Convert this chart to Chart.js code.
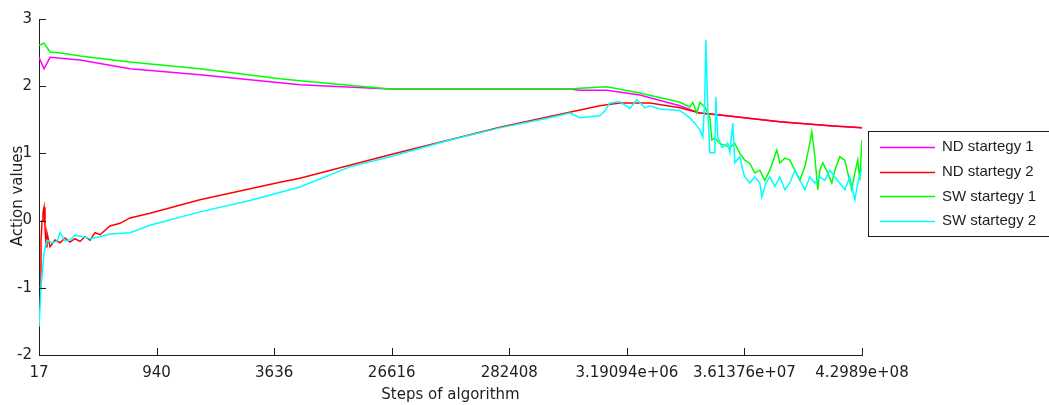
<!DOCTYPE html>
<html>
<head>
<meta charset="utf-8">
<title>Action values</title>
<script src="https://cdn.jsdelivr.net/npm/chart.js@4.4.1/dist/chart.umd.min.js"></script>
<style>
  html, body { margin: 0; padding: 0; background: #ffffff; }
  #wrap { width: 1049px; height: 405px; }
</style>
</head>
<body>
<div id="wrap"><canvas id="grafico" width="1049" height="405"></canvas></div>
<script>
// etiquetas del eje x (pasos del algoritmo)
const stepLabels = ["17", "940", "3636", "26616", "282408", "3.19094e+06", "3.61376e+07", "4.2989e+08"];
const yTicks = [-2, -1, 0, 1, 2, 3];

// series: [posicion en el eje x, valor]
const ndStartegy1 = [
    [0, 2.43], [0.043, 2.26], [0.094, 2.43], [0.349, 2.39], [0.774, 2.26], [1.369, 2.17],
    [2.049, 2.05], [2.219, 2.02], [2.985, 1.96], [4.515, 1.96], [4.6, 1.94], [4.83, 1.94],
    [5.111, 1.87], [5.451, 1.71], [5.621, 1.60], [5.791, 1.57], [6.301, 1.47], [6.726, 1.41], [7, 1.38]
];

const ndStartegy2 = [
    [0, -0.99], [0.009, -0.99], [0.017, -0.30], [0.026, 0.0], [0.034, 0.12], [0.043, 0.20],
    [0.051, -0.10], [0.06, -0.39], [0.068, -0.18], [0.094, -0.39], [0.136, -0.29], [0.179, -0.33],
    [0.221, -0.26], [0.264, -0.32], [0.306, -0.27], [0.349, -0.31], [0.391, -0.24], [0.434, -0.29],
    [0.476, -0.18], [0.519, -0.21], [0.604, -0.08], [0.689, -0.04], [0.774, 0.04], [0.944, 0.11],
    [1.369, 0.31], [2.049, 0.57], [2.219, 0.63], [2.985, 0.98], [3.92, 1.39], [4.77, 1.71],
    [4.94, 1.75], [5.196, 1.75], [5.451, 1.68], [5.621, 1.60], [5.791, 1.57], [6.301, 1.47],
    [6.726, 1.41], [7, 1.38]
];

const swStartegy1 = [
    [0, 2.61], [0.043, 2.64], [0.094, 2.51], [0.2, 2.49], [0.35, 2.45], [0.774, 2.36], [1.369, 2.26],
    [2.049, 2.11], [2.219, 2.08], [2.985, 1.96], [4.515, 1.96], [4.6, 1.97], [4.83, 1.99],
    [5.111, 1.90], [5.451, 1.76], [5.535, 1.69], [5.561, 1.76], [5.595, 1.60], [5.621, 1.76],
    [5.663, 1.69], [5.706, 1.53], [5.723, 1.20], [5.748, 1.23], [5.791, 1.15], [5.833, 1.12],
    [5.876, 1.09], [5.918, 1.15], [5.961, 1.00], [6.003, 0.90], [6.046, 0.85], [6.088, 0.71],
    [6.131, 0.75], [6.173, 0.60], [6.216, 0.75], [6.276, 1.05], [6.301, 0.86], [6.344, 0.93],
    [6.386, 0.90], [6.429, 0.75], [6.471, 0.60], [6.514, 0.80], [6.556, 1.15], [6.573, 1.32],
    [6.599, 0.95], [6.624, 0.46], [6.641, 0.75], [6.667, 0.86], [6.709, 0.71], [6.743, 0.56],
    [6.769, 0.75], [6.811, 0.95], [6.854, 0.90], [6.879, 0.71], [6.913, 0.46], [6.939, 0.71],
    [6.964, 0.90], [6.981, 0.60], [7, 1.20]
];

const swStartegy2 = [
    [0, -1.58], [0.017, -0.99], [0.043, -0.48], [0.068, -0.29], [0.111, -0.33], [0.153, -0.31],
    [0.179, -0.18], [0.221, -0.30], [0.264, -0.29], [0.306, -0.22], [0.349, -0.23], [0.434, -0.27],
    [0.519, -0.24], [0.604, -0.20], [0.774, -0.18], [0.944, -0.07], [1.369, 0.13], [1.794, 0.30],
    [2.219, 0.50], [2.645, 0.80], [2.985, 0.95], [3.495, 1.20], [3.92, 1.38], [4.345, 1.53],
    [4.515, 1.60], [4.6, 1.53], [4.77, 1.56], [4.813, 1.63], [4.855, 1.75], [4.94, 1.77],
    [5.026, 1.67], [5.085, 1.80], [5.153, 1.68], [5.196, 1.71], [5.281, 1.66], [5.451, 1.64],
    [5.535, 1.53], [5.578, 1.45], [5.621, 1.35], [5.646, 1.24], [5.663, 1.84], [5.672, 2.69],
    [5.689, 1.60], [5.706, 1.01], [5.748, 1.01], [5.757, 1.84], [5.774, 1.24], [5.808, 1.09],
    [5.859, 1.15], [5.876, 1.01], [5.901, 1.45], [5.918, 0.86], [5.961, 0.95], [5.986, 0.75],
    [6.003, 0.65], [6.046, 0.56], [6.088, 0.65], [6.131, 0.56], [6.148, 0.35], [6.182, 0.56],
    [6.216, 0.65], [6.259, 0.51], [6.301, 0.65], [6.344, 0.46], [6.386, 0.56], [6.429, 0.75],
    [6.471, 0.60], [6.514, 0.46], [6.556, 0.65], [6.599, 0.56], [6.641, 0.65], [6.684, 0.60],
    [6.726, 0.75], [6.769, 0.65], [6.811, 0.56], [6.854, 0.46], [6.896, 0.65], [6.939, 0.31],
    [6.964, 0.56], [7, 0.78]
];

const seriesNames = ["ND startegy 1", "ND startegy 2", "SW startegy 1", "SW startegy 2"];
const seriesColors = ["#ff00ff", "#ff0000", "#00ff00", "#00ffff"];

const textColor = "#1e1e1e";
const axisFont = { family: "'DejaVu Sans', sans-serif", size: 15 };

function toPoints(arr) {
    return arr.map(p => ({ x: p[0], y: p[1] }));
}

// marcas hacia dentro, titulo del eje y y leyenda
const marcasYLeyenda = {
    id: "marcasYLeyenda",
    afterDraw(chart) {
        const ctx = chart.ctx;
        const area = chart.chartArea;
        const sx = chart.scales.x;
        const sy = chart.scales.y;
        ctx.save();
        ctx.strokeStyle = textColor;
        ctx.lineWidth = 1;
        ctx.beginPath();
        sx.ticks.forEach(t => {
            const px = Math.round(sx.getPixelForValue(t.value)) + 0.5;
            ctx.moveTo(px, area.bottom);
            ctx.lineTo(px, area.bottom - 7);
        });
        sy.ticks.forEach(t => {
            const py = Math.round(sy.getPixelForValue(t.value)) + 0.5;
            ctx.moveTo(area.left, py);
            ctx.lineTo(area.left + 7, py);
        });
        ctx.stroke();

        // titulo eje y
        ctx.save();
        ctx.translate(18, 196);
        ctx.rotate(-Math.PI / 2);
        ctx.font = "15px 'DejaVu Sans', sans-serif";
        ctx.fillStyle = textColor;
        ctx.textAlign = "center";
        ctx.textBaseline = "middle";
        ctx.fillText("Action values", 0, 0);
        ctx.restore();

        // leyenda
        const lx = 868.5, ly = 131.5;
        ctx.fillStyle = "#ffffff";
        ctx.fillRect(lx, ly, 190, 105);
        ctx.strokeStyle = textColor;
        ctx.lineWidth = 1;
        ctx.strokeRect(lx, ly, 190, 105);
        ctx.font = "15px 'Liberation Sans', Arial, sans-serif";
        ctx.textAlign = "left";
        ctx.textBaseline = "middle";
        chart.data.datasets.forEach((ds, i) => {
            const yy = 147 + i * 24.7;
            ctx.strokeStyle = ds.borderColor;
            ctx.lineWidth = 1.5;
            ctx.beginPath();
            ctx.moveTo(880, Math.round(yy) + 0.5);
            ctx.lineTo(935, Math.round(yy) + 0.5);
            ctx.stroke();
            ctx.fillStyle = textColor;
            ctx.fillText(ds.label, 942, yy);
        });
        ctx.restore();
    }
};

const datos = {
    datasets: [ndStartegy1, ndStartegy2, swStartegy1, swStartegy2].map((serie, i) => ({
        label: seriesNames[i],
        data: toPoints(serie),
        borderColor: seriesColors[i],
        backgroundColor: seriesColors[i],
        borderWidth: 1.5,
        pointRadius: 0,
        tension: 0,
        order: 3 - i
    }))
};

const config = {
    type: "line",
    data: datos,
    options: {
        responsive: false,
        maintainAspectRatio: false,
        animation: false,
        layout: { padding: { top: 19, right: 187, bottom: 0, left: 0 } },
        scales: {
            x: {
                type: "linear",
                min: 0,
                max: stepLabels.length - 1,
                afterFit: (scale) => { scale.height = 50; },
                afterBuildTicks: (scale) => {
                    scale.ticks = stepLabels.map((_, i) => ({ value: i }));
                },
                grid: { display: true, drawOnChartArea: false, drawTicks: false },
                border: { display: true, color: textColor, width: 1 },
                ticks: {
                    padding: 9,
                    maxRotation: 0,
                    autoSkip: false,
                    color: textColor,
                    font: axisFont,
                    callback: (v) => stepLabels[v] !== undefined ? stepLabels[v] : ""
                },
                title: {
                    display: true,
                    text: "Steps of algorithm",
                    color: textColor,
                    font: axisFont,
                    padding: { top: 0, bottom: 1 }
                }
            },
            y: {
                min: yTicks[0],
                max: yTicks[yTicks.length - 1],
                afterFit: (scale) => { scale.width = 39; },
                afterBuildTicks: (scale) => {
                    scale.ticks = yTicks.map(v => ({ value: v }));
                },
                grid: { display: true, drawOnChartArea: false, drawTicks: false },
                border: { display: true, color: textColor, width: 1 },
                ticks: {
                    padding: 7,
                    color: textColor,
                    font: axisFont
                }
            }
        },
        plugins: {
            legend: { display: false },
            tooltip: { enabled: false }
        }
    },
    plugins: [marcasYLeyenda]
};

const ctx = document.getElementById("grafico").getContext("2d");
new Chart(ctx, config);
</script>
</body>
</html>
